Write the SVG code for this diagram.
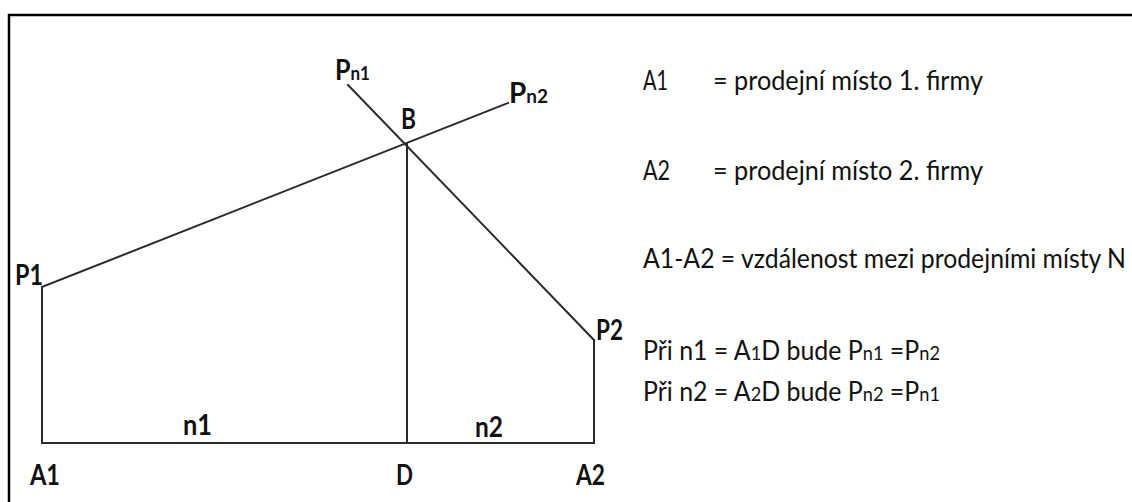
<svg xmlns="http://www.w3.org/2000/svg" width="1132" height="502" viewBox="0 0 1132 502">
<style>
.ln{stroke:#2a2a2a;stroke-width:2;fill:none;stroke-linecap:square}
.lb{font-family:Lato,"Liberation Sans",sans-serif;font-weight:bold;font-size:28px;fill:#111}
.tx{font-family:Lato,"Liberation Sans",sans-serif;font-size:26px;fill:#111}
.sm{font-size:19px}
</style>
<rect width="1132" height="502" fill="#fff"/>
<path d="M9,502 V15 H1132" stroke="#000" stroke-width="2.5" fill="none"/>
<g id="connectors">
<line class="ln" x1="42" y1="287" x2="42" y2="443"/>
<line class="ln" x1="42" y1="443" x2="594" y2="443"/>
<line class="ln" x1="594" y1="443" x2="594" y2="340"/>
<line class="ln" x1="407" y1="144" x2="407" y2="443"/>
<line class="ln" x1="42" y1="287" x2="508" y2="103"/>
<line class="ln" x1="348" y1="85" x2="594" y2="340"/>
</g>
<g id="node-Pn1"><text class="lb" x="335" y="80" textLength="35" lengthAdjust="spacingAndGlyphs">P<tspan class="sm">n1</tspan></text></g>
<g id="node-Pn2"><text class="lb" x="509" y="103" textLength="39" lengthAdjust="spacingAndGlyphs">P<tspan class="sm">n2</tspan></text></g>
<g id="node-B"><text class="lb" x="401" y="129" textLength="15" lengthAdjust="spacingAndGlyphs">B</text></g>
<g id="node-P1"><text class="lb" x="15" y="285" textLength="28" lengthAdjust="spacingAndGlyphs">P1</text></g>
<g id="node-P2"><text class="lb" x="596" y="340" textLength="27" lengthAdjust="spacingAndGlyphs">P2</text></g>
<g id="node-n1"><text class="lb" x="183" y="435" textLength="29" lengthAdjust="spacingAndGlyphs">n1</text></g>
<g id="node-n2"><text class="lb" x="475" y="437" textLength="28" lengthAdjust="spacingAndGlyphs">n2</text></g>
<g id="node-A1"><text class="lb" x="30" y="485" textLength="30" lengthAdjust="spacingAndGlyphs">A1</text></g>
<g id="node-D"><text class="lb" x="396" y="485" textLength="17" lengthAdjust="spacingAndGlyphs">D</text></g>
<g id="node-A2"><text class="lb" x="576" y="485" textLength="29" lengthAdjust="spacingAndGlyphs">A2</text></g>
<g id="legend">
<text class="tx" x="643" y="90" textLength="25" lengthAdjust="spacingAndGlyphs">A1</text>
<text class="tx" x="713" y="90" textLength="270" lengthAdjust="spacingAndGlyphs">= prodejní místo 1. firmy</text>
<text class="tx" x="643" y="180" textLength="27" lengthAdjust="spacingAndGlyphs">A2</text>
<text class="tx" x="713" y="180" textLength="270" lengthAdjust="spacingAndGlyphs">= prodejní místo 2. firmy</text>
<text class="tx" x="643" y="268" textLength="483" lengthAdjust="spacingAndGlyphs">A1-A2 = vzdálenost mezi prodejními místy N</text>
<text class="tx" x="643" y="360" textLength="297" lengthAdjust="spacingAndGlyphs">Při n1 = A<tspan class="sm">1</tspan>D bude P<tspan class="sm">n1</tspan> =P<tspan class="sm">n2</tspan></text>
<text class="tx" x="643" y="401" textLength="297" lengthAdjust="spacingAndGlyphs">Při n2 = A<tspan class="sm">2</tspan>D bude P<tspan class="sm">n2</tspan> =P<tspan class="sm">n1</tspan></text>
</g>
</svg>
